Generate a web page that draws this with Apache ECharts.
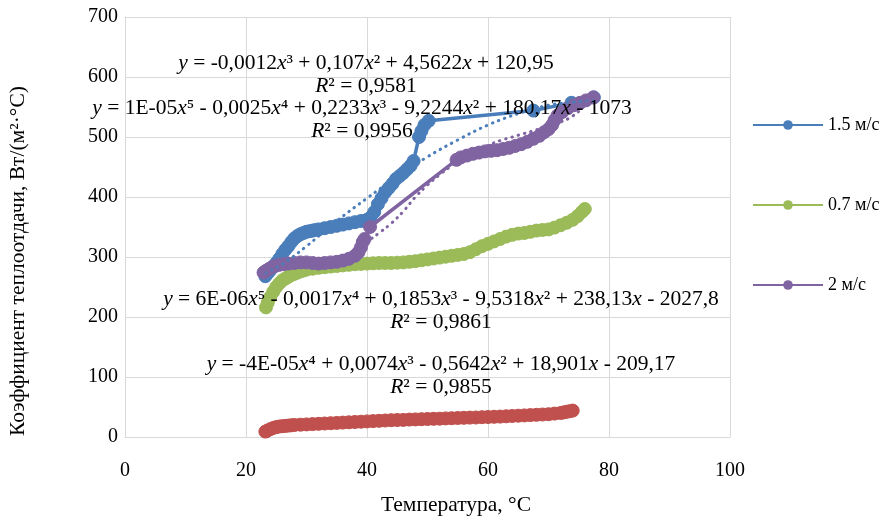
<!DOCTYPE html>
<html><head><meta charset="utf-8">
<script src="https://cdn.jsdelivr.net/npm/echarts@6/dist/echarts.min.js"></script>
<style>html,body{margin:0;padding:0;background:#fff}#c{width:890px;height:516px}</style>
</head><body><div id="c"></div>
<script>
// ---- axes ----
const xMin = 0, xMax = 100, xStep = 20;
const yMin = 0, yMax = 700, yStep = 100;
const xTitle = 'Температура, °С';
const yTitle = 'Коэффициент теплоотдачи, Вт/(м²·°С)';
const legendNames = ['1.5 м/с', '0.7 м/с', '2 м/с'];

// ---- 1.5 м/с ----
const blueX = [23.2,23.6,24.0,24.5,25.0,25.5,26.0,26.5,27.0,27.5,28.0,28.5,29.0,29.5,30.0,30.5,31,31.5,32,33,34,35,36,37,38,39,40,40.6,41.2,41.8,42.4,43.0,43.6,44.2,44.8,45.4,46.0,46.6,47.2,47.7,48.6,49.0,49.5,50.2,67.5,73.8,77.5];
const blueY = [268,273,278,284,290,297,305,312,318,325,331,335,338,340,342,343,344,345,346,348,350,352,354,356,358,360,362,366,375,388,398,408,415,422,430,435,440,446,452,460,500,510,520,527,544,557,566];
// ---- 0.7 м/с ----
const greenX = [23.3,23.6,24.0,24.5,25.0,25.5,26.0,26.5,27,27.5,28,28.5,29,29.5,30,31,32,33,34,35,36,37,38,39,40,41,42,43,44,45,46,47,48,49,50,51,52,53,54,55,56,57,58,59,60,61,62,63,64,65,66,67,68,69,70,71,72,73,74,74.8,75.5,76];
const greenY = [216,224,233,242,250,256,261,264,267,270,272,274,276,277.5,279,280.5,282,283,284,285,286,287,288,288.5,289,289.5,290,290,290,290.5,291,292,293,294.5,296,297.5,299,300.5,302,303.5,305,308,313,318,322,326,330,334,337,339,340,342,344,345,346,349,353,357,362,368,375,380];
// ---- red series (no legend entry) ----
const redX = [23.2,23.5,24,24.5,25,25.5,26,26.5,27,27.5,28,29,30,31,32,33,34,35,36,37,38,39,40,41,42,43,44,45,46,47,48,49,50,51,52,53,54,55,56,57,58,59,60,61,62,63,64,65,66,67,68,69,70,71,72,72.5,73,73.5,74];
const redY = [9,10.5,13,15,16.5,17.5,18,18.5,19,19.5,20,20.5,21,21.5,22,22.5,23,23.5,24,24.5,25,25.5,26,26.5,27,27.5,28,28.3,28.5,29,29.3,29.7,30,30.3,30.5,31,31.3,31.7,32,32.3,32.5,33,33.3,33.7,34,34.5,35,35.5,36,36.5,37,37.5,38,39,40,41,42,43,44];
// ---- 2 м/с ----
const purpleX = [22.9,23.3,23.8,24.3,24.8,25.5,26.2,27,28,29,30,31,32,33,34,35,36,37,38,38.6,39.0,39.3,39.6,40.5,54.8,55.5,56.5,57.5,58.5,59.5,60.5,61.5,62.5,63.5,64.5,65.5,66.5,67.5,68.5,69.3,70,70.6,71.0,71.5,72.3,73.2,74.2,75.2,76.2,77.4];
const purpleY = [274,277,280,283,285,287,288,289,290,291,291,290,289,290,291,292,294,297,302,308,316,325,330,350,462,466,469,472,474,476,477,478,480,482,485,488,492,497,502,508,513,520,528,536,542,548,553,557,561,566];

// ---- trendlines ----
const blueTrendX = [23.2,26,30,35,40,45,50,55,60,65,70,74,77.5];
const blueTrendY = [273,288,318,360,398,434,467,495,520,539,553,558,560];
const purpleTrendX = [22.9,26,30,34,36,38,40,42,44,46,48,50,52,54,56,58,60,62,64,66,68,70,72,74,76,77.4];
const purpleTrendY = [272,282,287,290,295,308,325,340,356,376,400,420,437,452,465,476,486,494,500,506,512,519,525,535,552,566];

// ---- equation labels ----
const eqBlue = ['{i|y} = -0,0012{i|x}³ + 0,107{i|x}² + 4,5622{i|x} + 120,95', '{i|R}² = 0,9581'];
const eqPurple = ['{i|y} = 1E-05{i|x}⁵ - 0,0025{i|x}⁴ + 0,2233{i|x}³ - 9,2244{i|x}² + 180,17{i|x} - 1073', '{i|R}² = 0,9956'];
const eqGreen = ['{i|y} = 6E-06{i|x}⁵ - 0,0017{i|x}⁴ + 0,1853{i|x}³ - 9,5318{i|x}² + 238,13{i|x} - 2027,8', '{i|R}² = 0,9861'];
const eqRed = ['{i|y} = -4E-05{i|x}⁴ + 0,0074{i|x}³ - 0,5642{i|x}² + 18,901{i|x} - 209,17', '{i|R}² = 0,9855'];

const FONT = '"Liberation Serif", "Times New Roman", serif';
const EQ_SIZE = 21.5;
const pts = (xs, ys) => xs.map((x, i) => [x, ys[i]]);

const C_BLUE = '#4a7ebb', C_GREEN = '#9bbb59', C_RED = '#c0504d', C_PURPLE = '#8064a2';

function dataSeries(name, xs, ys, color, z) {
  return {
    name: name, type: 'line', data: pts(xs, ys), symbol: 'circle', symbolSize: 13,
    itemStyle: { color: color, borderColor: color },
    lineStyle: { color: color, width: 3.5 },
    z: z, animation: false
  };
}
function trendSeries(xs, ys, color, z) {
  return {
    type: 'line', data: pts(xs, ys), smooth: 0.4, symbol: 'none', showSymbol: false,
    lineStyle: { color: color, width: 3, type: [0.5, 6], cap: 'round' },
    z: z, silent: true, animation: false
  };
}
function eqText(lines, cx, cy) {
  return lines.map((t, i) => ({
    type: 'text', x: cx, y: cy + i * 23, z: 100,
    style: {
      text: t, textAlign: 'center', textVerticalAlign: 'middle',
      fontFamily: FONT, fontSize: EQ_SIZE, fill: '#000',
      rich: { i: { fontStyle: 'italic', fontFamily: FONT, fontSize: EQ_SIZE, fill: '#000' } }
    }
  }));
}

const chart = echarts.init(document.getElementById('c'), null, { renderer: 'canvas' });
chart.setOption({
  animation: false,
  backgroundColor: '#fff',
  grid: { left: 125, right: 160, top: 17, bottom: 79, containLabel: false },
  xAxis: {
    type: 'value', min: xMin, max: xMax, interval: xStep,
    axisLine: { show: true, lineStyle: { color: '#d9d9d9', width: 1 } },
    axisTick: { show: false },
    splitLine: { show: true, lineStyle: { color: '#d9d9d9', width: 1 } },
    axisLabel: { fontFamily: FONT, fontSize: 20, color: '#000', margin: 24 }
  },
  yAxis: {
    type: 'value', min: yMin, max: yMax, interval: yStep,
    axisLine: { show: true, lineStyle: { color: '#d9d9d9', width: 1 } },
    axisTick: { show: false },
    splitLine: { show: true, lineStyle: { color: '#d9d9d9', width: 1 } },
    axisLabel: { fontFamily: FONT, fontSize: 20, color: '#000', margin: 7 }
  },
  legend: {
    data: legendNames, orient: 'vertical', left: 747, top: 111,
    itemWidth: 70, itemHeight: 12, itemGap: 62,
    textStyle: { fontFamily: FONT, fontSize: 18, color: '#000' }
  },
  graphic: [
    { type: 'text', x: 18, y: 261, rotation: Math.PI / 2, z: 100,
      style: { text: yTitle, textAlign: 'center', textVerticalAlign: 'middle', fontFamily: FONT, fontSize: EQ_SIZE, fill: '#000' } },
    { type: 'text', x: 456, y: 505, z: 100,
      style: { text: xTitle, textAlign: 'center', textVerticalAlign: 'middle', fontFamily: FONT, fontSize: EQ_SIZE, fill: '#000' } }
  ].concat(eqText(eqBlue, 366, 63), eqText(eqPurple, 362, 108), eqText(eqGreen, 441, 299), eqText(eqRed, 441, 364)),
  series: [
    dataSeries(legendNames[0], blueX, blueY, C_BLUE, 2),
    dataSeries(legendNames[1], greenX, greenY, C_GREEN, 3),
    dataSeries('red', redX, redY, C_RED, 4),
    dataSeries(legendNames[2], purpleX, purpleY, C_PURPLE, 5),
    trendSeries(blueTrendX, blueTrendY, C_BLUE, 6),
    trendSeries(purpleTrendX, purpleTrendY, C_PURPLE, 6)
  ]
});
</script></body></html>
